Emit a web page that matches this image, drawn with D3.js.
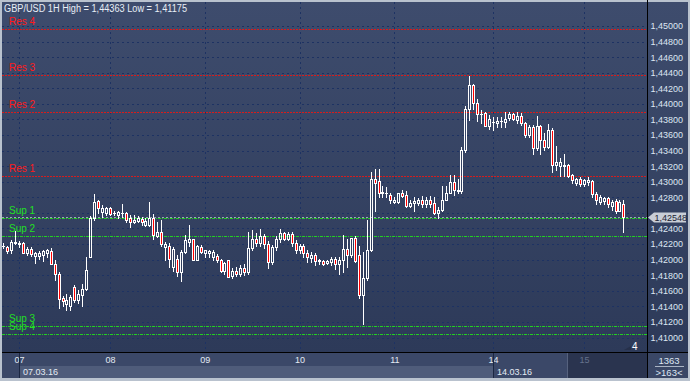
<!DOCTYPE html>
<html><head><meta charset="utf-8">
<script src="https://cdn.jsdelivr.net/npm/d3@7"></script>
<style>html,body{margin:0;padding:0;background:#b9c2ce;overflow:hidden}svg{display:block}</style>
</head><body><svg id="c" width="690" height="381"></svg>
<script>
// ---------- DATA ----------
const titleText = "GBP/USD 1H High = 1,44363 Low = 1,41175";
const lastPrice = 1.42548;
const barsTotal = "1363", barsVisible = ">163<";
const cornerNumber = "4";
const priceTicks = [1.410,1.412,1.414,1.416,1.418,1.420,1.422,1.424,1.426,1.428,1.430,1.432,1.434,1.436,1.438,1.440,1.442,1.444,1.446,1.448,1.450];
const dayLabels = ["07","08","09","10","11","14","15"];
const dayIndex  = [4, 27, 51, 75, 99, 124, 147];
const weekLabels = ["07.03.16","14.03.16"];
const weekIndex  = [4, 124];
const levelNames  = ["Res 4","Res 3","Res 2","Res 1","Sup 1","Sup 2","Sup 3","Sup 4"];
const levelValues = [1.4496, 1.4437, 1.4389, 1.4307, 1.4253, 1.4230, 1.4115, 1.4105];

const opens = [1.4218,1.4216,1.4213,1.4223,1.4220,1.4221,1.4208,1.4214,1.4205,1.4205,1.4206,1.4209,1.4211,1.4195,1.4182,1.4151,1.4143,1.4141,1.4165,1.4148,
1.4154,1.4162,1.4203,1.4253,1.4275,1.4261,1.4260,1.4266,1.4260,1.4257,1.4260,1.4260,1.4253,1.4248,1.4249,1.4252,1.4245,1.4244,1.4253,1.4230,
1.4236,1.4216,1.4218,1.4191,1.4201,1.4184,1.4210,1.4222,1.4226,1.4200,1.4216,1.4208,1.4208,1.4203,1.4205,1.4199,1.4186,1.4199,1.4179,1.4185,
1.4181,1.4189,1.4184,1.4215,1.4227,1.4221,1.4230,1.4220,1.4197,1.4216,1.4226,1.4234,1.4227,1.4233,1.4221,1.4212,1.4217,1.4208,1.4202,1.4206,
1.4198,1.4198,1.4196,1.4197,1.4201,1.4195,1.4200,1.4214,1.4206,1.4228,1.4206,1.4155,1.4176,1.4212,1.4304,1.4301,1.4285,1.4285,1.4283,1.4274,
1.4274,1.4285,1.4283,1.4269,1.4273,1.4273,1.4277,1.4272,1.4277,1.4273,1.4260,1.4264,1.4277,1.4286,1.4300,1.4288,1.4288,1.4341,1.4393,1.4424,
1.4401,1.4387,1.4388,1.4372,1.4377,1.4376,1.4378,1.4377,1.4382,1.4387,1.4379,1.4384,1.4375,1.4360,1.4370,1.4343,1.4371,1.4354,1.4344,1.4366,
1.4321,1.4320,1.4320,1.4322,1.4309,1.4298,1.4304,1.4297,1.4300,1.4301,1.4284,1.4274,1.4275,1.4279,1.4269,1.4275,1.4263,1.4272];
const highs = [1.4221,1.4218,1.4225,1.4237,1.4224,1.4223,1.4216,1.4216,1.4210,1.4211,1.4212,1.4214,1.4215,1.4199,1.4184,1.4153,1.4156,1.4154,1.4167,1.4161,
1.4169,1.4203,1.4256,1.4284,1.4277,1.4270,1.4268,1.4268,1.4263,1.4263,1.4271,1.4261,1.4257,1.4257,1.4256,1.4255,1.4253,1.4274,1.4259,1.4248,
1.4251,1.4223,1.4221,1.4216,1.4206,1.4212,1.4231,1.4244,1.4227,1.4219,1.4219,1.4213,1.4212,1.4212,1.4207,1.4201,1.4197,1.4200,1.4189,1.4191,
1.4193,1.4195,1.4235,1.4238,1.4234,1.4239,1.4233,1.4224,1.4219,1.4230,1.4239,1.4236,1.4235,1.4235,1.4225,1.4220,1.4220,1.4212,1.4210,1.4208,
1.4201,1.4200,1.4200,1.4203,1.4204,1.4203,1.4231,1.4227,1.4228,1.4230,1.4218,1.4210,1.4251,1.4313,1.4316,1.4316,1.4294,1.4293,1.4286,1.4280,
1.4286,1.4290,1.4288,1.4277,1.4280,1.4279,1.4282,1.4280,1.4282,1.4281,1.4268,1.4294,1.4295,1.4309,1.4309,1.4304,1.4344,1.4397,1.44363,1.4425,
1.4406,1.4392,1.4390,1.4386,1.4383,1.4383,1.4383,1.4389,1.4390,1.4388,1.4390,1.4388,1.4377,1.4373,1.4373,1.4384,1.4373,1.4362,1.4374,1.4369,
1.4346,1.4330,1.4336,1.4323,1.4310,1.4305,1.4306,1.4304,1.4306,1.4302,1.4287,1.4283,1.4281,1.4280,1.4276,1.4278,1.4277,1.4276];
const lows = [1.4215,1.4209,1.4208,1.4220,1.4216,1.4208,1.4206,1.4205,1.4196,1.4201,1.4198,1.4203,1.4194,1.4174,1.4138,1.4141,1.4135,1.4135,1.4145,1.4144,
1.4141,1.4161,1.4203,1.4251,1.4260,1.4255,1.4257,1.4257,1.4257,1.4253,1.4255,1.4248,1.4242,1.4247,1.4248,1.4245,1.4243,1.4243,1.4226,1.4229,
1.4218,1.4199,1.4191,1.4186,1.4179,1.4173,1.4208,1.4218,1.4199,1.4199,1.4209,1.4203,1.4204,1.4199,1.4197,1.4184,1.4182,1.4178,1.4176,1.4179,
1.4179,1.4180,1.4182,1.4212,1.4217,1.4218,1.4215,1.4189,1.4194,1.4212,1.4222,1.4225,1.4225,1.4217,1.4209,1.4208,1.4204,1.4197,1.4197,1.4193,
1.4195,1.4193,1.4194,1.4193,1.4188,1.4182,1.4184,1.4190,1.4203,1.4197,1.4151,1.41175,1.4174,1.4211,1.4263,1.4280,1.4280,1.4280,1.4273,1.4273,
1.4273,1.4280,1.4268,1.4267,1.4263,1.4270,1.4268,1.4268,1.4268,1.4259,1.4254,1.4263,1.4276,1.4285,1.4283,1.4285,1.4286,1.4338,1.4379,1.4393,
1.4378,1.4375,1.4371,1.4368,1.4367,1.4370,1.4370,1.4370,1.4379,1.4379,1.4375,1.4373,1.4358,1.4358,1.4336,1.4341,1.4336,1.4341,1.4343,1.4313,
1.4315,1.4308,1.4308,1.4306,1.4298,1.4296,1.4294,1.4294,1.4296,1.4281,1.4272,1.4271,1.4272,1.4267,1.4264,1.4260,1.4262,1.4236];
const closes = [1.4218,1.4211,1.4223,1.4221,1.4221,1.4209,1.4214,1.4207,1.4208,1.4209,1.4211,1.4212,1.4195,1.4182,1.4150,1.4147,1.4148,1.4152,1.4148,1.4156,
1.4162,1.4187,1.4253,1.4274,1.4266,1.4266,1.4266,1.4258,1.4260,1.4261,1.4260,1.4251,1.4248,1.4251,1.4253,1.4248,1.4249,1.4253,1.4231,1.4236,
1.4220,1.4220,1.4201,1.4214,1.4184,1.4210,1.4225,1.4227,1.4200,1.4217,1.4210,1.4212,1.4211,1.4210,1.4199,1.4186,1.4196,1.4178,1.4185,1.4181,
1.4189,1.4184,1.4215,1.4227,1.4221,1.4230,1.4220,1.4197,1.4216,1.4226,1.4234,1.4227,1.4233,1.4221,1.4213,1.4217,1.4208,1.4203,1.4206,1.4198,
1.4199,1.4195,1.4198,1.4201,1.4195,1.4200,1.4214,1.4206,1.4228,1.4198,1.4154,1.4176,1.4212,1.4304,1.4298,1.4285,1.4287,1.4286,1.4277,1.4277,
1.4285,1.4282,1.4269,1.4273,1.4275,1.4277,1.4272,1.4277,1.4272,1.4260,1.4264,1.4277,1.4286,1.4300,1.4290,1.4290,1.4341,1.4393,1.4424,1.4401,
1.4387,1.4387,1.4372,1.4380,1.4377,1.4378,1.4378,1.4381,1.4387,1.4380,1.4385,1.4375,1.4360,1.4370,1.4343,1.4371,1.4354,1.4344,1.4366,1.4321,
1.4326,1.4326,1.4322,1.4308,1.4302,1.4304,1.4297,1.4302,1.4302,1.4284,1.4277,1.4280,1.4279,1.4271,1.4274,1.4263,1.4274,1.42548];

// ---------- LAYOUT ----------
const W = 690, H = 381;
const P = {l: 2, r: 647, t: 2, b: 352};
const FONT = "'Liberation Sans', Arial, sans-serif";
const svg = d3.select("#c");

const x = d3.scaleLinear().domain([0, 162]).range([3.3, 3.3 + 162 * 3.95]);
const y = d3.scaleLinear().domain([1.41, 1.45]).range([337.5, 26]);
const fmt = v => d3.format(".5f")(v).replace(".", ",");
const px = v => Math.round(v) + 0.5;

const defs = svg.append("defs");
const g1 = defs.append("linearGradient").attr("id", "bg").attr("x1", 0).attr("y1", 0).attr("x2", 0).attr("y2", 1);
g1.append("stop").attr("offset", "0%").attr("stop-color", "#3e4c6d");
g1.append("stop").attr("offset", "100%").attr("stop-color", "#2d3a59");
defs.append("clipPath").attr("id", "plotclip").append("rect")
  .attr("x", P.l).attr("y", P.t).attr("width", P.r - P.l).attr("height", P.b - P.t);

// frame
svg.append("rect").attr("width", W).attr("height", H).attr("fill", "#b9c2ce");
svg.append("rect").attr("x", P.l).attr("y", P.t).attr("width", P.r - P.l).attr("height", P.b - P.t).attr("fill", "url(#bg)");
svg.append("rect").attr("x", P.r + 1).attr("y", P.t).attr("width", W - 2 - P.r - 1).attr("height", P.b - P.t).attr("fill", "url(#bg)");
// bottom axis band
svg.append("rect").attr("x", P.l).attr("y", P.b + 1).attr("width", P.r - P.l).attr("height", 25).attr("fill", "#3b4868");
svg.append("rect").attr("x", P.r + 1).attr("y", P.b + 1).attr("width", W - 2 - P.r - 1).attr("height", 25).attr("fill", "#3a4766");
// week scroll band
svg.append("rect").attr("x", Math.round(x(weekIndex[0]))).attr("y", 366)
  .attr("width", Math.round(x(weekIndex[1])) - Math.round(x(weekIndex[0]))).attr("height", 12).attr("fill", "#4f5c7a");
// current-day dark box
svg.append("rect").attr("x", Math.round(x(143))).attr("y", P.b + 1)
  .attr("width", P.r - Math.round(x(143))).attr("height", 25).attr("fill", "#2a344f");
svg.append("line").attr("x1", Math.round(x(143)) - 0.5).attr("x2", Math.round(x(143)) - 0.5)
  .attr("y1", P.b + 1).attr("y2", 378).attr("stroke", "#56627e");

const plot = svg.append("g").attr("clip-path", "url(#plotclip)").attr("shape-rendering", "crispEdges");

// grid
plot.selectAll(".hg").data(priceTicks).join("line")
  .attr("x1", P.l).attr("x2", P.r).attr("y1", d => px(y(d))).attr("y2", d => px(y(d)))
  .attr("stroke", "#1d3263").attr("stroke-dasharray", "2,3");
plot.selectAll(".vg").data(dayIndex).join("line")
  .attr("x1", d => px(x(d))).attr("x2", d => px(x(d))).attr("y1", P.t).attr("y2", P.b)
  .attr("stroke", "#1d3263").attr("stroke-dasharray", "2,3");

// levels
const isRes = n => n.startsWith("Res");
plot.selectAll(".lv").data(levelValues).join("line")
  .attr("x1", P.l).attr("x2", P.r).attr("y1", d => px(y(d))).attr("y2", d => px(y(d)))
  .attr("stroke", (d, i) => isRes(levelNames[i]) ? "#d81c1c" : "#22d022")
  .attr("stroke-dasharray", (d, i) => isRes(levelNames[i]) ? "2,1" : "3,1,1,1");

// current price line
plot.append("line").attr("x1", P.l).attr("x2", P.r).attr("y1", px(y(lastPrice))).attr("y2", px(y(lastPrice)))
  .attr("stroke", "#9ca6b8").attr("stroke-dasharray", "2,2");

// candles
const idx = d3.range(opens.length);
const cg = plot.append("g");
idx.forEach(i => {
  const o = opens[i], h = highs[i], l = lows[i], c = closes[i];
  const cx = Math.round(x(i));
  const top = Math.round(y(Math.max(o, c)));
  const bot = Math.round(y(Math.min(o, c)));
  const yh = Math.round(y(h)), yl = Math.round(y(l));
  const up = c >= o;
  if (yh < top) cg.append("line").attr("x1", cx + 0.5).attr("x2", cx + 0.5).attr("y1", yh).attr("y2", top).attr("stroke", "#fff");
  if (yl > bot) cg.append("line").attr("x1", cx + 0.5).attr("x2", cx + 0.5).attr("y1", bot + 1).attr("y2", yl + 1).attr("stroke", "#fff");
  if (bot - top < 1) {
    cg.append("line").attr("x1", cx - 1).attr("x2", cx + 2).attr("y1", top + 0.5).attr("y2", top + 0.5).attr("stroke", "#fff");
  } else {
    cg.append("rect").attr("x", cx - 0.5).attr("y", top + 0.5).attr("width", 2).attr("height", bot - top)
      .attr("fill", up ? "none" : "#ff0000").attr("stroke", "#fff");
  }
});

// level labels
plot.selectAll(".ll").data(levelNames).join("text")
  .attr("x", 9).attr("y", (d, i) => y(levelValues[i]) - 4)
  .attr("font-family", FONT).attr("font-size", 10)
  .attr("fill", d => isRes(d) ? "#ff1a1a" : "#22e022").text(d => d);

// borders
svg.append("line").attr("x1", P.r + 0.5).attr("x2", P.r + 0.5).attr("y1", 0).attr("y2", 378).attr("stroke", "#000");
svg.append("line").attr("x1", P.l).attr("x2", W - 2).attr("y1", P.b + 0.5).attr("y2", P.b + 0.5).attr("stroke", "#000");

// right axis (labels hidden behind the price tag are dropped, as in the platform)
const tagY = Math.round(y(lastPrice));
const ya = svg.append("g").attr("transform", `translate(${P.r},0)`)
  .call(d3.axisRight(y).tickValues(priceTicks).tickFormat(fmt).tickSize(0).tickPadding(3.5));
ya.select(".domain").remove();
ya.selectAll(".tick").filter(d => Math.abs(y(d) - tagY) < 9).remove();
ya.selectAll("text").attr("font-family", FONT).attr("font-size", 9).attr("fill", "#dde6f2");

// current price tag
svg.append("path").attr("d", `M648,${tagY + 0.5} L654,${tagY - 4.5} L686,${tagY - 4.5} L686,${tagY + 5.5} L654,${tagY + 5.5} Z`)
  .attr("fill", "#c8cdd6");
svg.append("text").attr("x", 654.5).attr("y", tagY + 0.5).attr("dy", "0.35em")
  .attr("font-family", FONT).attr("font-size", 9).attr("fill", "#1b2233").text(fmt(lastPrice));

// bottom axis
const xa = svg.append("g").attr("transform", `translate(0,${P.b + 1})`)
  .call(d3.axisBottom(x).tickValues(dayIndex).tickFormat((d, i) => dayLabels[i]).tickSize(0).tickPadding(4));
xa.select(".domain").remove();
xa.selectAll("text").attr("font-family", FONT).attr("font-size", 9)
  .attr("fill", (d, i) => i === dayLabels.length - 1 ? "#65718c" : "#e4ebf4");
// week separators
svg.selectAll(".ws").data(weekIndex).join("line")
  .attr("x1", d => px(x(d))).attr("x2", d => px(x(d))).attr("y1", P.b + 1).attr("y2", 378)
  .attr("stroke", "#1b2742");
svg.selectAll(".wl").data(weekLabels).join("text")
  .attr("x", (d, i) => x(weekIndex[i]) + 4).attr("y", 375)
  .attr("font-family", FONT).attr("font-size", 9).attr("fill", "#e4ebf4").text(d => d);

// corner box
svg.append("text").attr("x", 669).attr("y", 364).attr("text-anchor", "middle")
  .attr("font-family", FONT).attr("font-size", 9.5).attr("fill", "#dde6f2").text(barsTotal);
svg.append("line").attr("x1", 655).attr("x2", 684).attr("y1", 366.5).attr("y2", 366.5).attr("stroke", "#aab4c4");
svg.append("text").attr("x", 669).attr("y", 376).attr("text-anchor", "middle")
  .attr("font-family", FONT).attr("font-size", 9.5).attr("fill", "#dde6f2").text(barsVisible);

// corner number
svg.append("path").attr("d", "M624,350 L631,350 L631,346 Z").attr("fill", "#26304a");
svg.append("text").attr("x", 632).attr("y", 350).attr("font-family", FONT).attr("font-size", 10)
  .attr("fill", "#ffffff").text(cornerNumber);

// title
svg.append("text").attr("x", 4).attr("y", 12).attr("font-family", FONT).attr("font-size", 10)
  .attr("textLength", 183).attr("lengthAdjust", "spacingAndGlyphs")
  .attr("fill", "#e8eef6").text(titleText);
</script></body></html>
